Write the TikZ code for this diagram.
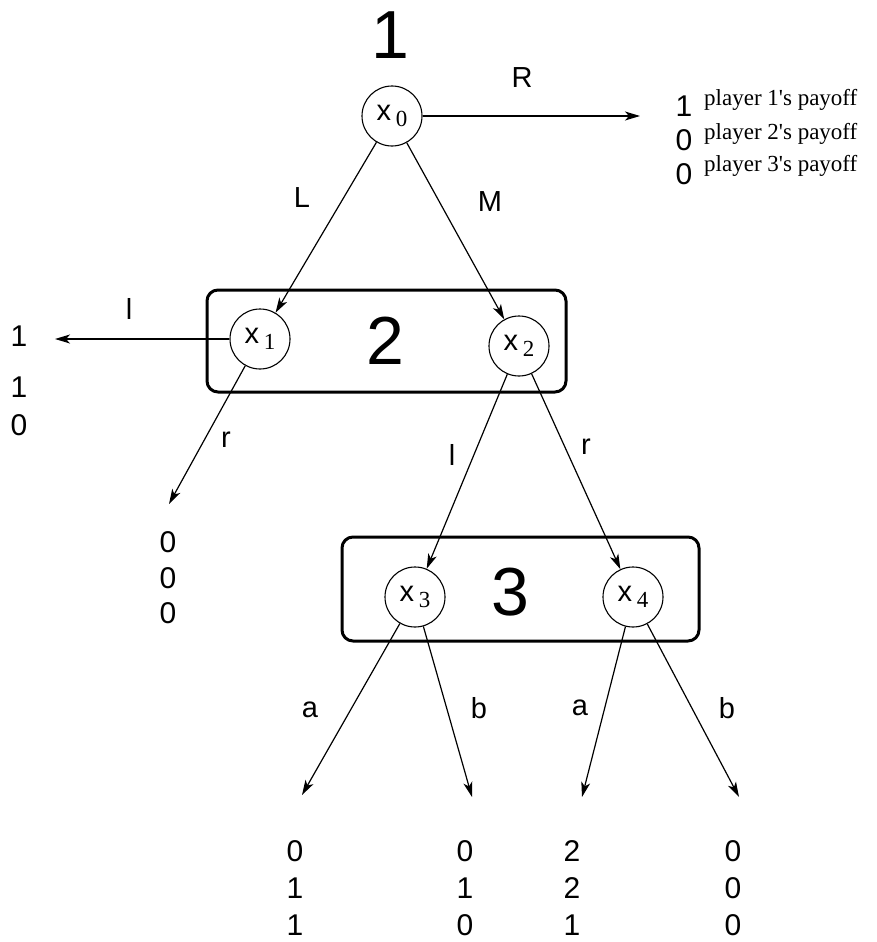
\documentclass[tikz,border=0pt]{standalone}
\usepackage{fontspec}
\setmainfont{Liberation Sans}
\newfontfamily\tnr{Liberation Serif}
\usetikzlibrary{arrows.meta}
\newcommand{\xsub}[1]{x\,\raisebox{-0.35ex}{\tnr\fontsize{23}{23}\selectfont #1}}
\begin{document}
\begin{tikzpicture}[x=1pt,y=-1pt,
  dec/.style={circle,draw,line width=1.1pt,minimum size=60pt,inner sep=0pt,font=\fontsize{29}{29}\selectfont},
  infoset/.style={draw,line width=3pt,rounded corners=11pt},
  big/.style={inner sep=0pt,font=\fontsize{68}{68}\selectfont},
  lab/.style={inner sep=0pt,font=\fontsize{29}{29}\selectfont},
  pay/.style={inner sep=0pt,font=\fontsize{30}{30}\selectfont},
  ptxt/.style={inner sep=0pt,anchor=base west,font=\tnr\fontsize{23}{23}\selectfont},
  mv/.style={line width=1.2pt,-{Stealth[length=15pt,width=9pt,inset=4pt]}}]
\useasboundingbox (0,0) rectangle (877,942);
% information sets
\draw[infoset] (207,290) rectangle (566,392);
\draw[infoset] (342,537) rectangle (699,641);
% player labels
\node[big] (p1) at (390,35) {1};
\node[big] (p2) at (385,341) {2};
\node[big] (p3) at (510,592) {3};
% decision nodes
\node[dec,fill=white] (x0) at (392,116) {\xsub{0}};
\node[dec,fill=white] (x1) at (260,339) {\xsub{1}};
\node[dec,fill=white] (x2) at (519,346) {\xsub{2}};
\node[dec,fill=white] (x3) at (415,597) {\xsub{3}};
\node[dec,fill=white] (x4) at (633,597) {\xsub{4}};
% endpoints
\coordinate (eR) at (640,116);
\coordinate (el) at (55,339);
\coordinate (er) at (169,504);
\coordinate (e3a) at (302,795);
\coordinate (e3b) at (472,797);
\coordinate (e4a) at (582,797);
\coordinate (e4b) at (739,797);
% moves
\draw[mv] (x0) -- (eR);
\draw[mv] (x0) -- (x1);
\draw[mv] (x0) -- (x2);
\draw[mv] (x1.west) -- (el);
\draw[mv] (x1) -- (er);
\draw[mv] (x2) -- (x3);
\draw[mv] (x2) -- (x4);
\draw[mv] (x3) -- (e3a);
\draw[mv] (x3) -- (e3b);
\draw[mv] (x4) -- (e4a);
\draw[mv] (x4) -- (e4b);
% action labels
\node[lab] (lR) at (522,78) {R};
\node[lab] (lL) at (302,198) {L};
\node[lab] (lM) at (490,202) {M};
\node[lab] (l1l) at (129,309) {l};
\node[lab] (l1r) at (226,440) {r};
\node[lab] (l2l) at (452,455) {l};
\node[lab] (l2r) at (586,447) {r};
\node[lab] (l3a) at (310,710) {a};
\node[lab] (l3b) at (479,708) {b};
\node[lab] (l4a) at (580,708) {a};
\node[lab] (l4b) at (727,708) {b};
% payoffs after R
\node[pay] (pR1) at (684,106) {1};
\node[pay] (pR2) at (684,140) {0};
\node[pay] (pR3) at (684,174) {0};
\node[ptxt] (t1) at (704,105) {player 1's payoff};
\node[ptxt] (t2) at (704,139) {player 2's payoff};
\node[ptxt] (t3) at (704,171) {player 3's payoff};
% payoffs after l at x1
\node[pay] (pl1) at (19,336) {1};
\node[pay] (pl2) at (19,387) {1};
\node[pay] (pl3) at (19,425) {0};
% payoffs after r at x1
\node[pay] (pr1) at (168,542) {0};
\node[pay] (pr2) at (168,578) {0};
\node[pay] (pr3) at (168,613) {0};
% bottom payoffs
\node[pay] (a1) at (295,851) {0};
\node[pay] (a2) at (295,888) {1};
\node[pay] (a3) at (295,925) {1};
\node[pay] (b1) at (465,851) {0};
\node[pay] (b2) at (465,888) {1};
\node[pay] (b3) at (465,925) {0};
\node[pay] (c1) at (572,851) {2};
\node[pay] (c2) at (572,888) {2};
\node[pay] (c3) at (572,925) {1};
\node[pay] (d1) at (733,851) {0};
\node[pay] (d2) at (733,888) {0};
\node[pay] (d3) at (733,925) {0};
\end{tikzpicture}
\end{document}
